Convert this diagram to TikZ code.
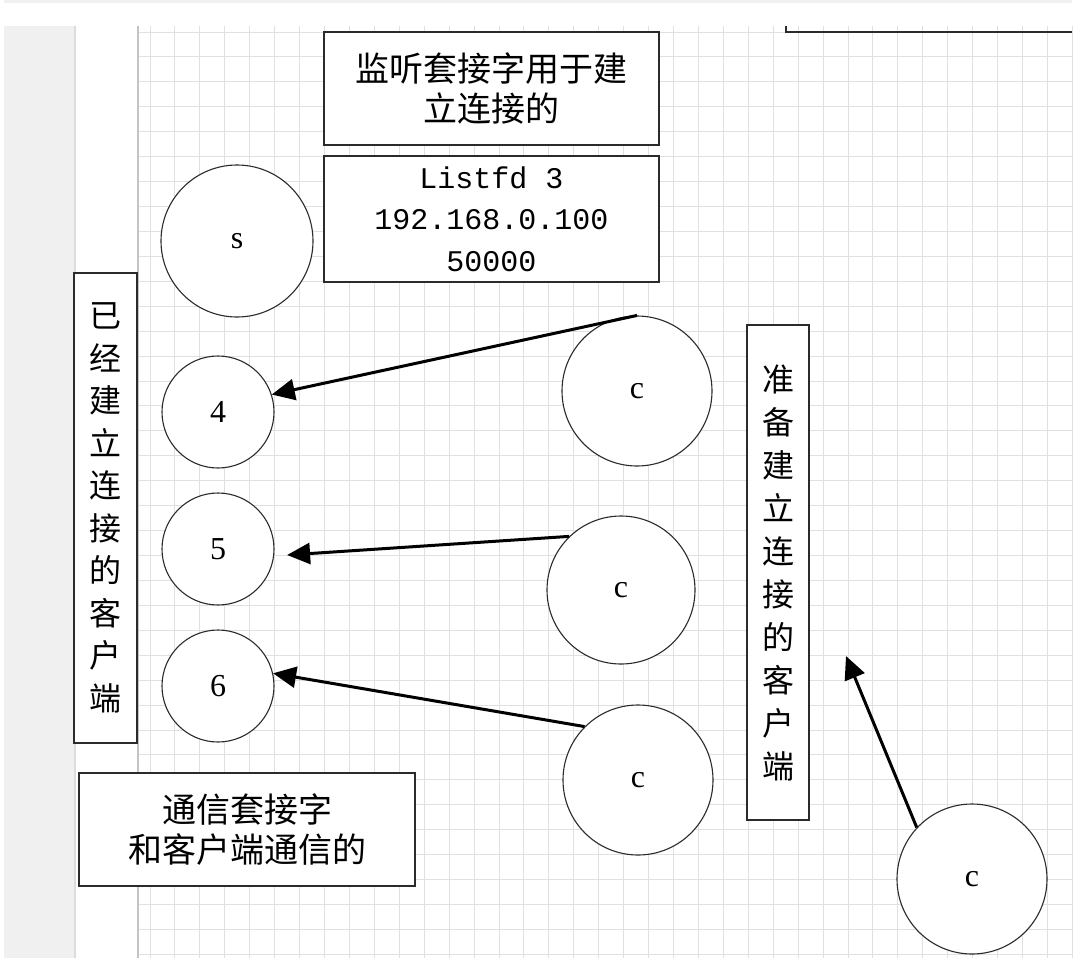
\documentclass[tikz,border=0pt]{standalone}
\usepackage{fontspec}
\setmainfont{Liberation Serif}
\newfontfamily\cjk{Noto Sans CJK SC}
\newfontfamily\monofnt{Liberation Mono}
\usetikzlibrary{arrows.meta}
\definecolor{GridLine}{HTML}{E0E0E0}
\definecolor{GridEdge}{HTML}{C4C4C4}
\definecolor{Panel}{HTML}{F0F0F0}
\definecolor{PanelEdge}{HTML}{DCDCDC}
\definecolor{Ink}{HTML}{2B2B2B}

\begin{document}
\begin{tikzpicture}[
  x=1pt,y=-1pt,
  every node/.style={inner sep=0pt,align=center},
  textbox/.style={draw=Ink,line width=1.3pt,fill=white,font=\cjk\fontsize{34}{40}\selectfont},
  vbox/.style={draw=Ink,line width=1.3pt,fill=white,font=\cjk\fontsize{32}{42.5}\selectfont},
  sock/.style={circle,draw=Ink,line width=1.1pt,fill=white,font=\fontsize{32}{38}\selectfont},
  arr/.style={-{Triangle[length=23pt,width=21pt]},line width=3pt,color=black}
]
\useasboundingbox (0,0) rectangle (1090,972);
\fill[white] (0,0) rectangle (1090,972);
% canvas background
\fill[Panel] (4,0) rectangle (1072,2.5);
\fill[Panel] (4,26) rectangle (75,958);
\draw[PanelEdge,line width=2pt] (75,26) -- (75,958);
\foreach \i in {0,...,36}
  \draw[GridLine,line width=1pt] ({150+24.93*\i},26) -- ({150+24.93*\i},958);
\foreach \j in {0,...,37}
  \draw[GridLine,line width=1pt] (138,{32+24.93*\j}) -- (1072,{32+24.93*\j});
\draw[GridLine,line width=1pt] (1072,26) -- (1072,958);
\draw[GridEdge,line width=1.2pt] (138,26) -- (138,958);
\draw[Ink,line width=1.3pt] (786,26) -- (786,32) -- (1072,32);

% boxes
\node[textbox,minimum width=335,minimum height=113] (listen) at (491.5,88.5) {监听套接字用于建\\立连接的};
\node[textbox,minimum width=335,minimum height=126,font=\monofnt\fontsize{30}{41.5}\selectfont] (addr) at (491.5,219) {Listfd 3\\192.168.0.100\\50000};
\node[textbox,minimum width=336,minimum height=113] (comm) at (247,829.5) {通信套接字\\和客户端通信的};
\node[vbox,minimum width=63,minimum height=470] (done) at (105.5,508) {已\\经\\建\\立\\连\\接\\的\\客\\户\\端};
\node[vbox,minimum width=62,minimum height=495,font=\cjk\fontsize{32}{43}\selectfont] (wait) at (778,572.5) {准\\备\\建\\立\\连\\接\\的\\客\\户\\端};

% sockets
\node[sock,minimum size=152] (srv) at (237,241) {s};
\node[sock,minimum size=112] (n4) at (218,412) {4};
\node[sock,minimum size=112] (n5) at (218,549) {5};
\node[sock,minimum size=112] (n6) at (218,686) {6};
\node[sock,minimum size=150] (c1) at (637,391) {c};
\node[sock,minimum size=148] (c2) at (621,590) {c};
\node[sock,minimum size=150] (c3) at (638,780) {c};
\node[sock,minimum size=150] (c4) at (972,879) {c};

% connections
\coordinate (aim) at (846,656);
\draw[arr] (c1.north) -- (n4.18);
\draw[arr,shorten >=13pt] (c2.134) -- (n5.-7);
\draw[arr] (c3.135) -- (n6.13);
\draw[arr] (c4.137) -- (aim);
\end{tikzpicture}
\end{document}
